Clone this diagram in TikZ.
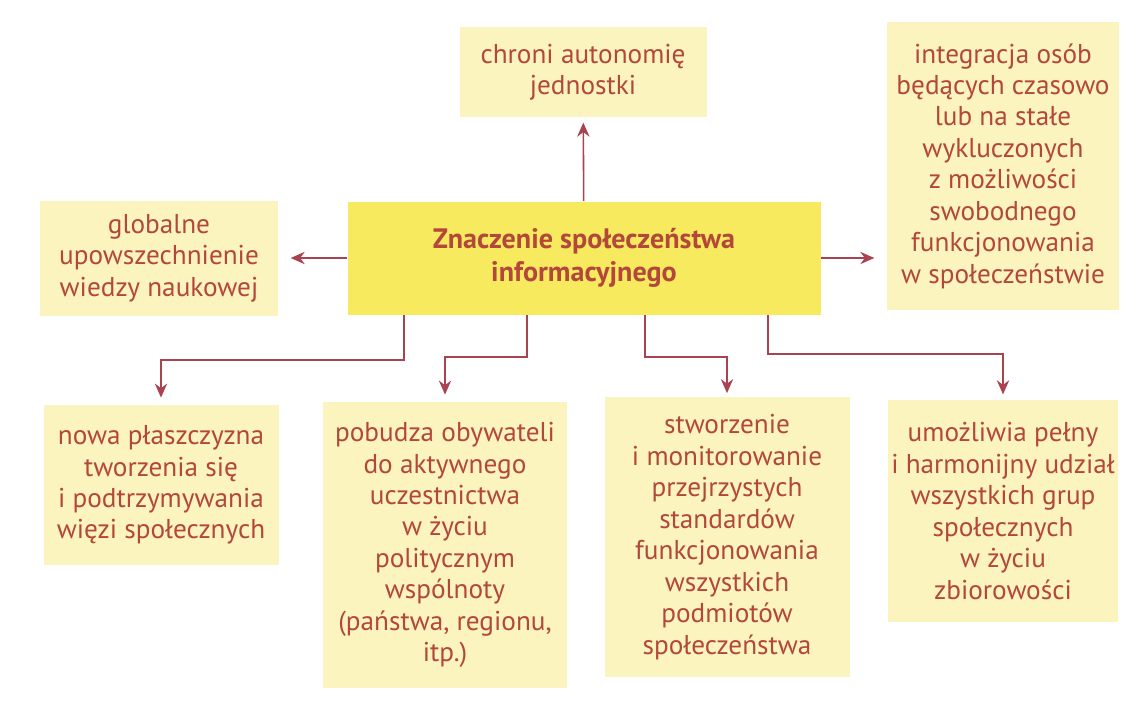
\documentclass[tikz,border=0pt]{standalone}
\usepackage{fontspec}
\setmainfont{PT Sans}
\usetikzlibrary{arrows.meta}
\definecolor{boxfill}{HTML}{FBF4BF}
\definecolor{mainfill}{HTML}{F8EA5E}
\definecolor{inkred}{HTML}{B4473B}
\definecolor{linered}{HTML}{A8434F}

\begin{document}
\begin{tikzpicture}[x=0.02cm,y=-0.02cm]
	\tikzstyle{item}=[fill=boxfill,text=inkred,align=center,inner sep=0pt,font=\fontsize{15.5}{17.9}\selectfont]
	\tikzstyle{link}=[draw=linered,line width=0.9pt,-{Stealth[length=8pt,width=7pt]}]
	\useasboundingbox (0,0) rectangle (1124,713);
	
	\node[item,fill=mainfill,minimum width=473*0.02cm,minimum height=113*0.02cm,font=\fontsize{16}{19}\selectfont\bfseries] at (584,258) (main) {Znaczenie społeczeństwa\\informacyjnego};
	
	\node[item,minimum width=247*0.02cm,minimum height=90*0.02cm] at (583,72) (auto) {chroni autonomię\\jednostki};
	\node[item,minimum width=232*0.02cm,minimum height=288*0.02cm] at (1003,166) (integ) {integracja osób\\będących czasowo\\lub na stałe\\wykluczonych\\z możliwości\\swobodnego\\funkcjonowania\\w społeczeństwie};
	\node[item,minimum width=238*0.02cm,minimum height=115*0.02cm] at (159,258) (glob) {globalne\\upowszechnienie\\wiedzy naukowej};
	
	\node[item,minimum width=235*0.02cm,minimum height=160*0.02cm] at (161,485) (plasz) {nowa płaszczyzna\\tworzenia się\\i podtrzymywania\\więzi społecznych};
	\node[item,minimum width=244*0.02cm,minimum height=286*0.02cm] at (445,545) (obyw) {pobudza obywateli\\do aktywnego\\uczestnictwa\\w życiu\\politycznym\\wspólnoty\\(państwa, regionu,\\itp.)};
	\node[item,minimum width=245*0.02cm,minimum height=280*0.02cm] at (727,537) (stand) {stworzenie\\i monitorowanie\\przejrzystych\\standardów\\funkcjonowania\\wszystkich\\podmiotów\\społeczeństwa};
	\node[item,minimum width=230*0.02cm,minimum height=222*0.02cm] at (1003,511) (udzial) {umożliwia pełny\\i harmonijny udział\\wszystkich grup\\społecznych\\w życiu\\zbiorowości};
	
	\draw[link,shorten >=3pt] (main) -- (auto);
	\draw[link,shorten >=7pt] (main.west) -- (glob.east);
	\draw[link,shorten >=7pt] (main.east) -- (integ.west |- main.east);
	
	\draw[link,shorten >=4pt] ([xshift=-180*0.02cm]main.south) |- ++(0,45) -| (plasz.north);
	\draw[link,shorten >=4pt] ([xshift=-57*0.02cm]main.south) |- ++(0,42) -| (obyw.north);
	\draw[link,shorten >=2pt] ([xshift=61*0.02cm]main.south) |- ++(0,42) -| (stand.north);
	\draw[link,shorten >=3pt] ([xshift=184*0.02cm]main.south) |- ++(0,39) -| (udzial.north);
\end{tikzpicture}
\end{document}
